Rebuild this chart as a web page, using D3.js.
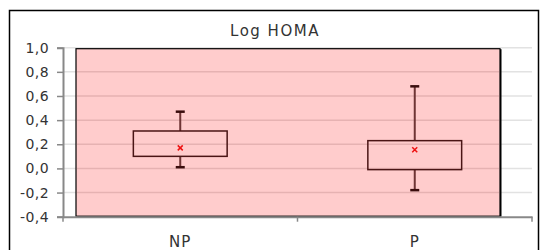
<!doctype html>
<html>
<head>
<meta charset="utf-8">
<title>Log HOMA</title>
<style>
  body { margin: 0; background: #fff; }
  svg text { font-family: "DejaVu Sans", sans-serif; fill: #333; }
</style>
</head>
<body>
<svg id="chart"></svg>
<script src="https://cdn.jsdelivr.net/npm/d3@7/dist/d3.min.js"></script>
<script>
// data
const categories = ["NP", "P"];
const whiskerLow = [0.01, -0.18];
const q1 = [0.10, -0.01];
const q3 = [0.31, 0.23];
const whiskerHigh = [0.47, 0.68];
const means = [0.17, 0.155];
const yTicks = [-0.4, -0.2, 0.0, 0.2, 0.4, 0.6, 0.8, 1.0];

const width = 540, height = 250;
const fontFam = "'DejaVu Sans', sans-serif";
const svg = d3.select("#chart").attr("width", width).attr("height", height);

// outer frame
svg.append("rect")
    .attr("x", 9.5).attr("y", 10.5)
    .attr("width", 529).attr("height", 260)
    .attr("fill", "#fff").attr("stroke", "#000").attr("stroke-width", 1.5);

svg.append("text")
    .attr("x", 275).attr("y", 36.3)
    .attr("text-anchor", "middle")
    .attr("font-size", 15)
    .attr("letter-spacing", 1.5)
    .text("Log HOMA");

const x = d3.scaleBand(categories, [63, 532]);
const y = d3.scaleLinear([-0.4, 1.0], [216.7, 47.7]);

const loc = d3.formatLocale({decimal: ",", thousands: ".", grouping: [3], currency: ["", ""], minus: "-"});
const fmt = loc.format(".1f");

// gray gridlines
svg.append("g")
    .selectAll("line")
    .data(yTicks.slice(1))
    .join("line")
    .attr("x1", 63).attr("x2", 532)
    .attr("y1", d => y(d)).attr("y2", d => y(d))
    .attr("stroke", "#e2e2e2").attr("stroke-width", 1.5);

// pink shaded region
const [r0, r1] = x.range();
const px0 = r0 + 13, px1 = r1 - 32;
svg.append("rect")
    .attr("x", px0 + 1.5).attr("y", y(1.0) + 1.5)
    .attr("width", px1 - px0).attr("height", y(-0.4) - y(1.0) - 1.5)
    .attr("fill", "#000");
svg.append("rect")
    .attr("x", px0).attr("y", y(1.0) + 1)
    .attr("width", px1 - px0).attr("height", y(-0.4) - y(1.0) - 1.5)
    .attr("fill", "#ffcccc").attr("stroke", "#000").attr("stroke-width", 1.2);

// pinkish gridlines inside the shaded region
svg.append("g")
    .selectAll("line")
    .data(yTicks.slice(1, -1))
    .join("line")
    .attr("x1", px0 + 1).attr("x2", px1 - 1)
    .attr("y1", d => y(d)).attr("y2", d => y(d))
    .attr("stroke", "#e6b2b2").attr("stroke-width", 1.5);

// axes
const yAxis = svg.append("g")
    .attr("transform", "translate(63,0)")
    .call(d3.axisLeft(y).tickValues(yTicks).tickFormat(fmt).tickSize(6).tickPadding(8));
yAxis.select(".domain").attr("stroke", "#888").attr("stroke-width", 2);
yAxis.selectAll(".tick line").attr("stroke", "#888").attr("stroke-width", 1.5);
yAxis.selectAll("text").attr("font-size", 14).attr("fill", "#333")
    .attr("letter-spacing", 0.4)
    .style("font-family", fontFam);

const xAxis = svg.append("g")
    .attr("transform", `translate(0,${y(-0.4)})`)
    .call(d3.axisBottom(x).tickSize(0).tickPadding(20));
xAxis.select(".domain").attr("stroke", "#888").attr("stroke-width", 2);
xAxis.selectAll("text").attr("font-size", 15).attr("fill", "#333")
    .attr("letter-spacing", 1.2)
    .style("font-family", fontFam);
// category separators
xAxis.selectAll(".sep")
    .data([r0, r0 + x.bandwidth(), r1])
    .join("line")
    .attr("x1", d => d).attr("x2", d => d)
    .attr("y1", 0).attr("y2", 5)
    .attr("stroke", "#888").attr("stroke-width", 1.5);

// box plots
const boxW = x.bandwidth() * 0.4;
const capW = 9;
const g = svg.append("g").selectAll("g")
    .data(categories)
    .join("g")
    .attr("transform", d => `translate(${x(d) + x.bandwidth() / 2},0)`);

g.append("line")
    .attr("x1", 0).attr("x2", 0)
    .attr("y1", (d, i) => y(whiskerHigh[i])).attr("y2", (d, i) => y(q3[i]))
    .attr("stroke", "#6e3535").attr("stroke-width", 2);
g.append("line")
    .attr("x1", 0).attr("x2", 0)
    .attr("y1", (d, i) => y(q1[i])).attr("y2", (d, i) => y(whiskerLow[i]))
    .attr("stroke", "#6e3535").attr("stroke-width", 2);
g.append("rect")
    .attr("x", -boxW / 2).attr("width", boxW)
    .attr("y", (d, i) => y(q3[i]))
    .attr("height", (d, i) => y(q1[i]) - y(q3[i]))
    .attr("fill", "none").attr("stroke", "#4a1515").attr("stroke-width", 1.5);
g.append("line")
    .attr("x1", -capW / 2).attr("x2", capW / 2)
    .attr("y1", (d, i) => y(whiskerHigh[i])).attr("y2", (d, i) => y(whiskerHigh[i]))
    .attr("stroke", "#3a0d0d").attr("stroke-width", 2.5);
g.append("line")
    .attr("x1", -capW / 2).attr("x2", capW / 2)
    .attr("y1", (d, i) => y(whiskerLow[i])).attr("y2", (d, i) => y(whiskerLow[i]))
    .attr("stroke", "#3a0d0d").attr("stroke-width", 2.5);
g.append("path")
    .attr("d", (d, i) => {
        const m = y(means[i]), s = 2.5;
        return `M${-s},${m - s}L${s},${m + s}M${-s},${m + s}L${s},${m - s}`;
    })
    .attr("stroke", "#ee1111").attr("stroke-width", 1.5);
</script>
</body>
</html>
